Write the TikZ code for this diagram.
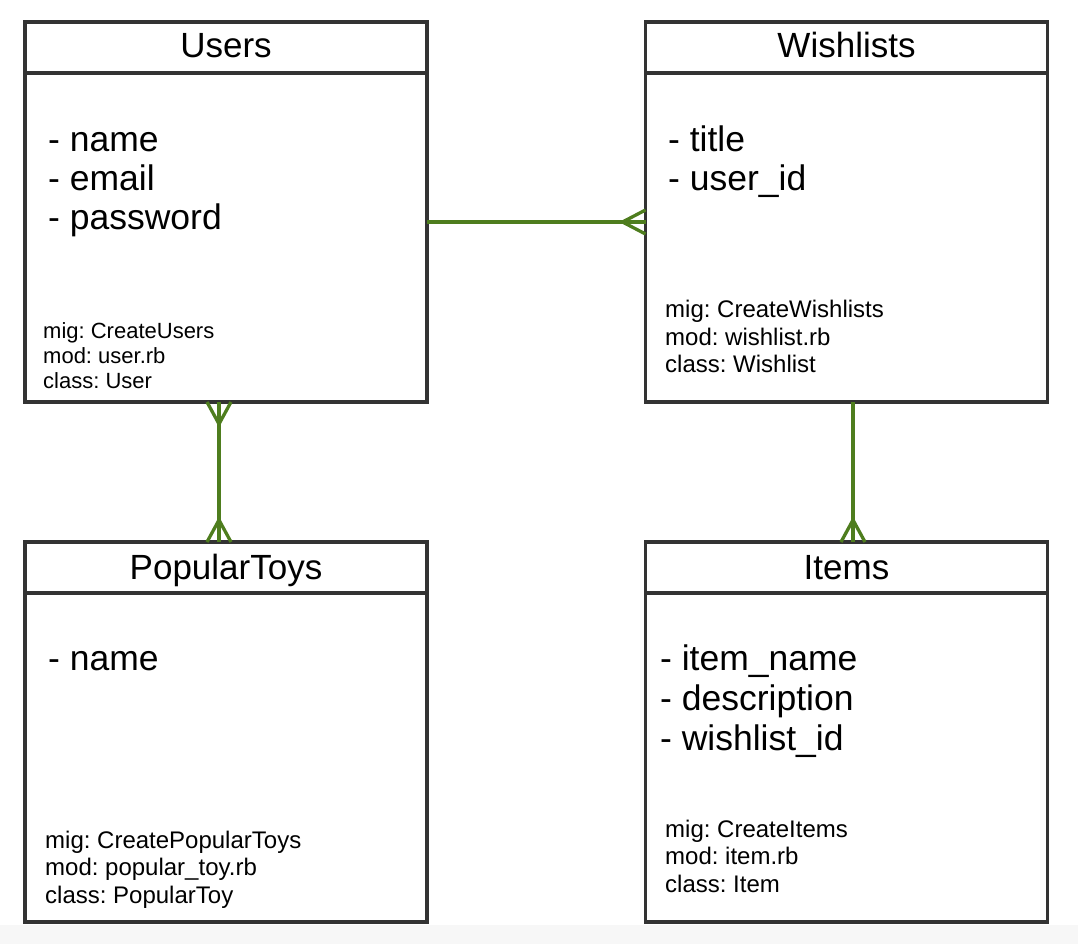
\documentclass[tikz,border=0pt]{standalone}
\usepackage{fontspec}
\setmainfont{Liberation Sans}
\definecolor{boxline}{HTML}{333333}
\definecolor{relgreen}{RGB}{78,125,30}
\definecolor{stripgray}{HTML}{F7F7F7}
\frenchspacing
\begin{document}
\begin{tikzpicture}[x=1pt,y=-1pt,
  box/.style={draw=boxline,line width=3.2pt,fill=white,minimum width=402pt,minimum height=380pt,inner sep=0pt,outer sep=0pt},
  ttl/.style={anchor=base,inner sep=0pt,font=\fontsize{35}{40}\selectfont},
  attr/.style={anchor=base west,inner sep=0pt,font=\fontsize{35.5}{40}\selectfont},
  meta/.style={anchor=base west,inner sep=0pt,font=\fontsize{24}{27}\selectfont},
  metasm/.style={anchor=base west,inner sep=0pt,font=\fontsize{22}{25}\selectfont},
  rel/.style={draw=relgreen,line width=3.3pt}]
\useasboundingbox (0,0) rectangle (1078,944);
\fill[white] (0,0) rectangle (1078,925);
\fill[stripgray] (0,925) rectangle (1078,944);

% boxes
\node[box] (users) at (226,212) {};
\node[box] (wish) at (846.5,212) {};
\node[box] (toys) at (226,732) {};
\node[box] (items) at (846.5,732) {};

% header separators
\foreach \b in {users,wish,toys,items}
  \draw[boxline,line width=3.2pt] ([yshift=-51pt]\b.north west) -- ([yshift=-51pt]\b.north east);

% Users
\node[ttl] (usersT) at (226,58) {Users};
\node[attr] (usersA1) at (48,152) {- name};
\node[attr] (usersA2) at (48,190.5) {- email};
\node[attr] (usersA3) at (48,229) {- password};
\node[metasm] (usersM1) at (43,338) {mig: CreateUsers};
\node[metasm] (usersM2) at (43,363) {mod: user.rb};
\node[metasm] (usersM3) at (43,388) {class: User};

% Wishlists
\node[ttl] (wishT) at (846.5,58) {Wishlists};
\node[attr] (wishA1) at (668,152) {- title};
\node[attr] (wishA2) at (668,190.5) {- user\_id};
\node[meta] (wishM1) at (665,317.5) {mig: CreateWishlists};
\node[meta] (wishM2) at (665,345) {mod: wishlist.rb};
\node[meta] (wishM3) at (665,372) {class: Wishlist};

% PopularToys
\node[ttl] (toysT) at (226,579) {PopularToys};
\node[attr] (toysA1) at (48,670) {- name};
\node[meta] (toysM1) at (45,848) {mig: CreatePopularToys};
\node[meta] (toysM2) at (45,875.5) {mod: popular\_toy.rb};
\node[meta] (toysM3) at (45,903) {class: PopularToy};

% Items
\node[ttl] (itemsT) at (846.5,579) {Items};
\node[attr] (itemsA1) at (660,670) {- item\_name};
\node[attr] (itemsA2) at (660,710) {- description};
\node[attr] (itemsA3) at (660,750) {- wishlist\_id};
\node[meta] (itemsM1) at (665,837) {mig: CreateItems};
\node[meta] (itemsM2) at (665,864.5) {mod: item.rb};
\node[meta] (itemsM3) at (665,892) {class: Item};

% relations
% Users -- Wishlists (many at Wishlists)
\coordinate (uw1) at (users.east |- 0,222);
\coordinate (uw2) at (wish.west |- 0,222);
\draw[rel] (uw1) -- (uw2);
\draw[rel] ([xshift=-23pt]uw2) -- ([yshift=-12pt]uw2);
\draw[rel] ([xshift=-23pt]uw2) -- ([yshift=12pt]uw2);

% Users -- PopularToys (many at both ends)
\coordinate (ut1) at (users.south -| 219,0);
\coordinate (ut2) at (toys.north -| 219,0);
\draw[rel] (ut1) -- (ut2);
\draw[rel] ([yshift=-22pt]ut1) -- ([xshift=-12pt]ut1);
\draw[rel] ([yshift=-22pt]ut1) -- ([xshift=12pt]ut1);
\draw[rel] ([yshift=22pt]ut2) -- ([xshift=-12pt]ut2);
\draw[rel] ([yshift=22pt]ut2) -- ([xshift=12pt]ut2);

% Wishlists -- Items (many at Items)
\coordinate (wi1) at (wish.south -| 853,0);
\coordinate (wi2) at (items.north -| 853,0);
\draw[rel] (wi1) -- (wi2);
\draw[rel] ([yshift=22pt]wi2) -- ([xshift=-12pt]wi2);
\draw[rel] ([yshift=22pt]wi2) -- ([xshift=12pt]wi2);
\end{tikzpicture}
\end{document}
